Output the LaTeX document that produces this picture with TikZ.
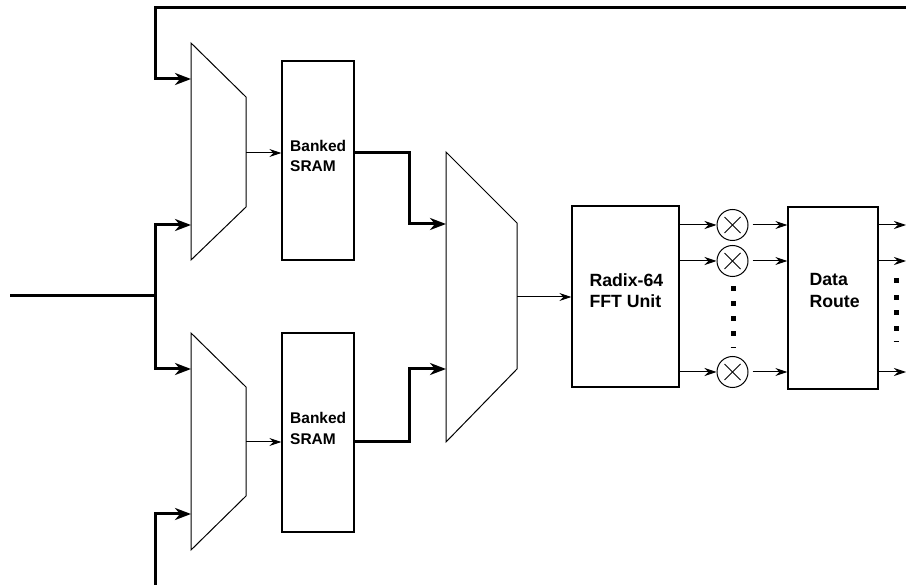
\documentclass[tikz,border=0pt]{standalone}
\usepackage{fontspec}
\setmainfont{Liberation Sans}
\usetikzlibrary{arrows.meta,calc}
\begin{document}
\begin{tikzpicture}[x=1pt,y=-1pt,
  thk/.style={line width=3pt},
  thn/.style={line width=1pt},
  bigarr/.style={thk,-{Stealth[length=16pt,width=12pt,inset=5pt]}},
  smallarr/.style={thn,-{Stealth[length=12pt,width=8pt,inset=4pt]}},
  box/.style={draw,line width=1.3pt,inner sep=0pt},
  mux/.style={draw,line width=1pt},
  lbl/.style={font=\bfseries,align=left,inner sep=0pt,anchor=west},
  mul/.style={draw,circle,line width=1pt,minimum size=31pt,inner sep=0pt},
  dot/.style={fill=black}]
\useasboundingbox (0,0) rectangle (906,585);
\clip (0,0) rectangle (906,585);

% multiplexers
\coordinate (m1tl) at (191,43);  \coordinate (m1tr) at (246,97);
\coordinate (m1br) at (246,207); \coordinate (m1bl) at (191,260);
\draw[mux] (m1tl) -- (m1tr) -- (m1br) -- (m1bl) -- cycle;
\coordinate (m1a) at (191,79); \coordinate (m1b) at (191,225); \coordinate (m1o) at (246,153);

\coordinate (m2tl) at (191,333); \coordinate (m2tr) at (246,387);
\coordinate (m2br) at (246,496); \coordinate (m2bl) at (191,550);
\draw[mux] (m2tl) -- (m2tr) -- (m2br) -- (m2bl) -- cycle;
\coordinate (m2a) at (191,369); \coordinate (m2b) at (191,514); \coordinate (m2o) at (246,442);

\coordinate (m3tl) at (446,152); \coordinate (m3tr) at (517,223);
\coordinate (m3br) at (517,369); \coordinate (m3bl) at (446,442);
\draw[mux] (m3tl) -- (m3tr) -- (m3br) -- (m3bl) -- cycle;
\coordinate (m3a) at (446,224); \coordinate (m3b) at (446,369); \coordinate (m3o) at (517,297);

% boxes
\node[box,minimum width=72pt,minimum height=199pt] (s1) at (318,160.5) {};
\node[box,minimum width=72pt,minimum height=199pt] (s2) at (318,432.5) {};
\node[box,minimum width=107pt,minimum height=181pt] (fft) at (625.5,296.5) {};
\node[box,minimum width=90pt,minimum height=182pt] (dr) at (833,298) {};

\node[lbl,font=\bfseries\fontsize{15.5}{20.7}\selectfont] (t1) at (290,156) {Banked\\SRAM};
\node[lbl,font=\bfseries\fontsize{15.5}{20.7}\selectfont] (t2) at (290,428.5) {Banked\\SRAM};
\node[lbl,font=\bfseries\fontsize{17.7}{21}\selectfont] (t3) at (589.3,290.7) {Radix-64\\FFT Unit};
\node[lbl,font=\bfseries\fontsize{17.7}{21}\selectfont] (t4) at (809.3,290.5) {Data\\Route};

% multipliers
\foreach \n/\y in {x1/225,x2/261,x3/372}{
  \node[mul] (\n) at (732.5,\y) {};
  \draw[thn] ($(\n.center)+(-8,-8)$) -- ($(\n.center)+(8,8)$);
  \draw[thn] ($(\n.center)+(-8,8)$) -- ($(\n.center)+(8,-8)$);
}

% thick wiring
\coordinate (tr) at (906,7.5);
\coordinate (c1) at (155,7.5);
\draw[bigarr] (tr) -- (c1) |- (m1a);
\coordinate (in) at (10,296);
\coordinate (j) at (155,296);
\draw[thk] (in) -- (j);
\draw[bigarr] (j) |- (m1b);
\draw[bigarr] (j) |- (m2a);
\coordinate (bt) at (155,590);
\draw[bigarr] (bt) |- (m2b);

\draw[bigarr] (s1.east |- m1o) -| ($(m3a)+(-37,0)$) -- (m3a);
\draw[bigarr] (s2.east |- m2o) -| ($(m3b)+(-37,0)$) -- (m3b);

% thin wiring
\draw[smallarr] (m1o) -- (m1o -| s1.west);
\draw[smallarr] (m2o) -- (m2o -| s2.west);
\draw[smallarr] (m3o) -- (m3o -| fft.west);
\foreach \n/\k in {x1/o1,x2/o2,x3/o3}{
  \draw[smallarr] (\n.west -| fft.east) -- (\n);
  \draw[smallarr,shorten <=4pt] (\n) -- (\n -| dr.west);
  \coordinate (\k) at (\n -| 906,0);
  \draw[smallarr] (\n -| dr.east) -- (\k);
}

% ellipsis dots
\foreach \y in {288.3,303.3,319,334}
  \fill[dot] (730.5,\y-2.5) rectangle (735.5,\y+2.5);
\draw[thn] (730.5,347.3) -- (735.5,347.3);
\foreach \y in {281,297.3,312.7,328.3}
  \fill[dot] (893.5,\y-2.5) rectangle (898.5,\y+2.5);
\draw[thn] (893.5,341.7) -- (898.5,341.7);
\end{tikzpicture}
\end{document}
